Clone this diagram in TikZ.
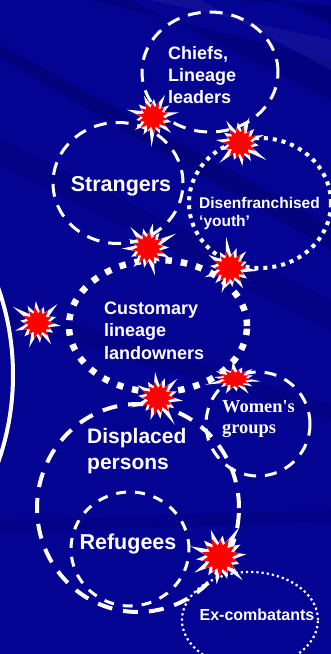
\documentclass[tikz,border=0pt]{standalone}
\usepackage{fontspec}
\setmainfont{Liberation Sans}
\newfontfamily\serifbold{Liberation Serif}
\usetikzlibrary{shapes.geometric}
\definecolor{bgblue}{RGB}{4,4,146}
\definecolor{bgdark}{RGB}{0,0,100}
\definecolor{burstred}{RGB}{255,0,0}
\tikzset{
  ring/.style={draw=white, ellipse, inner sep=0pt},
  lbl/.style={text=white, font=\bfseries, align=left, inner sep=0pt},
}
\newcommand{\whitelist}{26,12,19,12.5,24,12,18,12,30,12.5,20,12,22,12,17,12,27,12.5,19,12,23,12,18,12,25,12,20,12}
\newcommand{\redlist}{16,9.5,15,10,17,9.5,14.5,10,16.5,9.5,15,10,17,9.5,15,10,16,9.5,15,10,17,9.5,14,10,16,9.5,15,10}
\newcommand{\myburst}[6]{% name, x, y, scale, rotation, yscale
  \coordinate (#1) at (#2,#3);
  \begin{scope}[shift={(#2,#3)}, yscale=#6]
  \fill[white, rotate=#5, scale=#4]
    (0:26) \foreach \r [count=\i from 0] in \whitelist { -- (\i*360/28:\r) } -- cycle;
  \fill[burstred, rotate=#5+6, scale=#4]
    (0:16) \foreach \r [count=\i from 0] in \redlist { -- (\i*360/28:\r) } -- cycle;
  \end{scope}
}
\begin{document}
\begin{tikzpicture}[x=1pt,y=-1pt]
\useasboundingbox (0,0) rectangle (331,654);
\fill[bgblue] (0,0) rectangle (331,654);
% darker diagonal streaks
\begin{scope}
\clip (0,0) rectangle (331,654);
\fill[bgdark, opacity=0.45] (0,45) -- (0,58) -- (331,250) -- (331,225) -- cycle;
\fill[bgdark, opacity=0.35] (90,0) -- (130,0) -- (331,100) -- (331,60) -- cycle;
\fill[bgdark, opacity=0.5] (230,0) -- (280,0) -- (331,25) -- (331,5) -- cycle;
\fill[bgdark, opacity=0.3] (0,140) -- (0,165) -- (331,330) -- (331,300) -- cycle;
\fill[bgdark, opacity=0.3] (0,300) -- (0,320) -- (331,420) -- (331,405) -- cycle;
\fill[bgdark, opacity=0.25] (0,520) -- (331,510) -- (331,522) -- (0,532) -- cycle;
\fill[white, opacity=0.05] (150,0) -- (200,0) -- (331,70) -- (331,40) -- cycle;
\end{scope}

% left large arc
\begin{scope}
\clip (0,0) rectangle (331,654);
\draw[white, line width=4pt] (-250,375) circle [radius=263];
\end{scope}

% rings
\node[ring, line width=3pt, dash pattern=on 13pt off 9pt, minimum width=136pt, minimum height=120pt] (chiefs) at (210,72) {};
\node[ring, line width=3pt, dash pattern=on 13pt off 9pt, minimum width=130pt, minimum height=121pt] (strangers) at (118,183) {};
\node[ring, line width=4pt, dash pattern=on 4pt off 5pt, minimum width=142pt, minimum height=130pt] (youth) at (260,203) {};
\node[ring, line width=6.5pt, dash pattern=on 6.5pt off 9pt, minimum width=178pt, minimum height=132pt] (custom) at (158,326) {};
\node[ring, line width=3pt, dash pattern=on 12pt off 9pt, minimum width=104pt, minimum height=104pt] (women) at (258,424) {};
\node[ring, line width=4pt, dash pattern=on 15pt off 11pt, minimum width=202pt, minimum height=208pt] (displaced) at (138,508) {};
\node[ring, line width=3pt, dash pattern=on 10pt off 9pt, minimum width=118pt, minimum height=114pt] (refugees) at (130,549) {};
\node[ring, line width=2.2pt, dash pattern=on 2.2pt off 3pt, minimum width=136pt, minimum height=96pt] (excomb) at (250,620) {};

% labels (base anchor = baseline of last line)
\node[lbl, anchor=base west, font=\bfseries\fontsize{18}{22}\selectfont] (tchiefs) at (168,103) {Chiefs,\\Lineage\\leaders};
\node[lbl, anchor=base, font=\bfseries\fontsize{21.5}{26}\selectfont] (tstrangers) at (121,191) {Strangers};
\node[lbl, anchor=base west, font=\bfseries\fontsize{15.5}{18}\selectfont] (tyouth) at (199,226.5) {Disenfranchised\\‘youth’};
\node[lbl, anchor=base west, font=\bfseries\fontsize{18}{22.5}\selectfont] (tcustom) at (104,359) {Customary\\lineage\\landowners};
\node[lbl, anchor=base west, font=\serifbold\bfseries\fontsize{18.4}{21}\selectfont] (twomen) at (222,433) {Women's\\groups};
\node[lbl, anchor=base west, font=\bfseries\fontsize{21}{26}\selectfont] (tdisplaced) at (87,469) {Displaced\\persons};
\node[lbl, anchor=base, font=\bfseries\fontsize{21.5}{26}\selectfont] (trefugees) at (128,549) {Refugees};
\node[lbl, anchor=base, font=\bfseries\fontsize{16}{20}\selectfont] (texcomb) at (257,620) {Ex-combatants};

% starbursts
\myburst{b1}{153}{117}{1}{10}{1}
\myburst{b2}{240}{143}{1.05}{70}{1}
\myburst{b3}{148}{248}{1.05}{130}{1}
\myburst{b4}{230}{268}{1.05}{200}{1}
\myburst{b5}{38}{323}{1}{250}{1}
\myburst{b6}{235}{379}{1.05}{300}{0.62}
\myburst{b7}{158}{398}{1.05}{45}{1}
\myburst{b8}{220}{557}{1.2}{160}{1}
\end{tikzpicture}
\end{document}
